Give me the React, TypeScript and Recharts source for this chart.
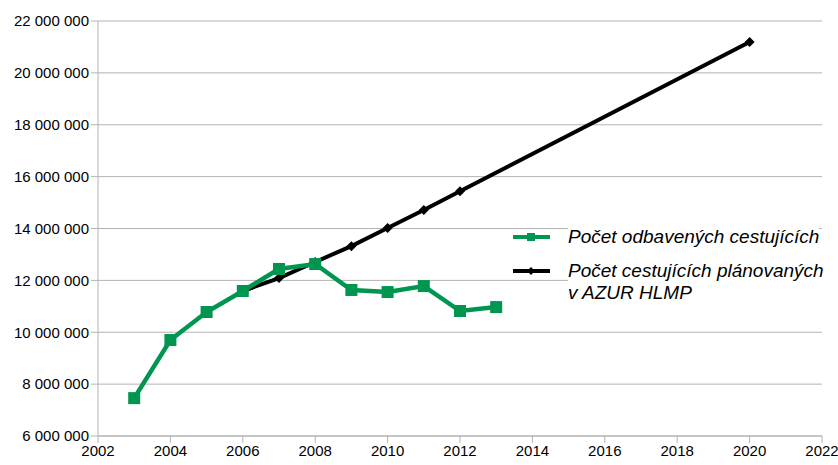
import { CartesianGrid, Line, LineChart, XAxis, YAxis } from 'recharts'

const years = [2003, 2004, 2005, 2006, 2007, 2008, 2009, 2010, 2011, 2012, 2013]
const handled = [7460000, 9700000, 10780000, 11590000, 12440000, 12630000, 11630000, 11550000, 11780000, 10820000, 10970000]

const planYears = [2006, 2007, 2008, 2009, 2010, 2011, 2012, 2020]
const planned = [11590000, 12090000, 12710000, 13320000, 14020000, 14710000, 15440000, 21190000]

const xTicks = [2002, 2004, 2006, 2008, 2010, 2012, 2014, 2016, 2018, 2020, 2022]
const yTicks = [6000000, 8000000, 10000000, 12000000, 14000000, 16000000, 18000000, 20000000, 22000000]

const GREEN = '#009650'
const GRID = '#b3b3b3'
const FONT = 'Liberation Sans, Arial, sans-serif'

const handledData = years.map((year, i) => ({ year, value: handled[i] }))
const plannedData = planYears.map((year, i) => ({ year, value: planned[i] }))

const fmt = (v: number) => String(v).replace(/\B(?=(\d{3})+(?!\d))/g, ' ')

const Square = (props: any) => {
  const { cx, cy } = props
  if (cx == null || cy == null) return null
  return <rect x={cx - 6} y={cy - 6} width={12} height={12} fill={GREEN} />
}

const Diamond = (props: any) => {
  const { cx, cy } = props
  if (cx == null || cy == null) return null
  return <polygon points={`${cx},${cy - 5} ${cx + 5},${cy} ${cx},${cy + 5} ${cx - 5},${cy}`} fill='#000' />
}

// legend sits over the plot, like in the original
const LegendBox = () => (
  <div
    style={{
      position: 'absolute',
      left: 508,
      top: 226,
      fontFamily: FONT,
      fontStyle: 'italic',
      fontSize: 19,
      color: '#000',
    }}
  >
    <div style={{ display: 'flex', alignItems: 'flex-start', height: 34 }}>
      <svg width={60} height={22} style={{ flex: 'none' }}>
        <line x1={5} y1={11} x2={42} y2={11} stroke={GREEN} strokeWidth={4} />
        <rect x={19} y={7} width={8} height={8} fill={GREEN} />
      </svg>
      <span style={{ background: '#fff', lineHeight: '22px', whiteSpace: 'nowrap' }}>Počet odbavených cestujících</span>
    </div>
    <div style={{ display: 'flex', alignItems: 'flex-start' }}>
      <svg width={60} height={22} style={{ flex: 'none' }}>
        <line x1={5} y1={11} x2={42} y2={11} stroke='#000' strokeWidth={4} />
        <polygon points='23,7 27,11 23,15 19,11' fill='#000' />
      </svg>
      <span style={{ background: '#fff', lineHeight: '22px', whiteSpace: 'nowrap' }}>
        Počet cestujících plánovaných
        <br />v AZUR HLMP
      </span>
    </div>
  </div>
)

export default function App() {
  return (
    <div style={{ position: 'absolute', left: 0, top: 0, width: 838, height: 465, background: '#fff' }}>
      <LineChart width={838} height={465} margin={{ top: 21, right: 16, bottom: 0, left: 8 }}>
        <CartesianGrid horizontal vertical={false} stroke={GRID} strokeWidth={1} />
        <XAxis
          type='number'
          dataKey='year'
          domain={[2002, 2022]}
          ticks={xTicks}
          allowDuplicatedCategory={false}
          stroke={GRID}
          tickSize={7}
          height={29}
          tick={{ fill: '#000', fontSize: 15, fontFamily: FONT }}
          interval={0}
        />
        <YAxis
          type='number'
          domain={[6000000, 22000000]}
          ticks={yTicks}
          stroke={GRID}
          tickSize={7}
          width={90}
          tickFormatter={fmt}
          tick={{ fill: '#000', fontSize: 15, fontFamily: FONT }}
          interval={0}
        />
        <Line
          data={plannedData}
          dataKey='value'
          name='Počet cestujících plánovaných v AZUR HLMP'
          stroke='#000'
          strokeWidth={4}
          dot={<Diamond />}
          activeDot={false}
          isAnimationActive={false}
        />
        <Line
          data={handledData}
          dataKey='value'
          name='Počet odbavených cestujících'
          stroke={GREEN}
          strokeWidth={4.5}
          dot={<Square />}
          activeDot={false}
          isAnimationActive={false}
        />
      </LineChart>
      <LegendBox />
    </div>
  )
}
